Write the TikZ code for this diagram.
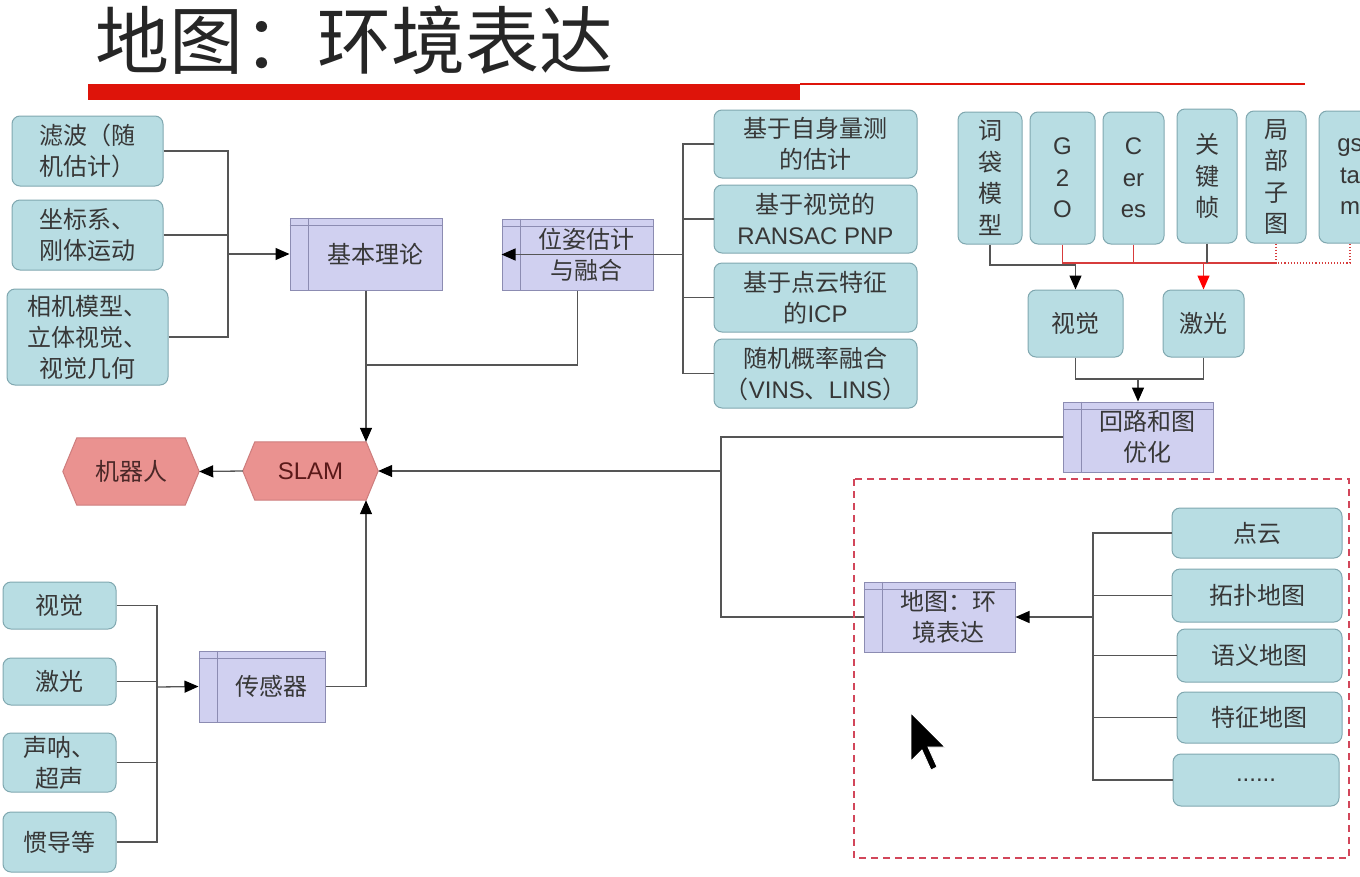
\documentclass[tikz,border=0pt]{standalone}
\usepackage{fontspec}
\setmainfont{Noto Sans CJK SC}
\newfontfamily\lat{Liberation Sans}
\usetikzlibrary{arrows.meta,calc,backgrounds}
\definecolor{tealfill}{RGB}{184,221,227}
\definecolor{tealdraw}{RGB}{128,168,176}
\definecolor{purfill}{RGB}{208,208,240}
\definecolor{purdraw}{RGB}{140,140,178}
\definecolor{hexfill}{RGB}{234,146,144}
\definecolor{hexdraw}{RGB}{205,125,125}
\definecolor{txt}{RGB}{55,55,55}
\definecolor{ln}{RGB}{85,85,85}
\definecolor{redln}{RGB}{215,60,60}
\definecolor{barred}{RGB}{222,20,10}
\definecolor{dashred}{RGB}{210,70,90}
\begin{document}
\begin{tikzpicture}[x=1pt,y=-1pt,
  tbox/.style={draw=tealdraw, fill=tealfill, rounded corners=8pt, line width=1pt, text=txt, align=center, inner sep=0pt, font=\fontsize{24}{31}\selectfont},
  vbox/.style={tbox, font=\fontsize{24}{31.5}\selectfont},
  pbox/.style={draw=purdraw, fill=purfill, line width=1pt, inner sep=0pt},
  ptext/.style={text=txt, align=center, font=\fontsize{24}{31}\selectfont, xshift=9pt},
  hexnode/.style={inner sep=0pt, font=\fontsize{24}{30}\selectfont},
  hex/.style={draw=hexdraw, fill=hexfill, line width=1pt},
  conn/.style={draw=ln, line width=1.3pt},
  arr/.style={conn, -{Triangle[length=14pt,width=12pt,color=black]}},
  redconn/.style={draw=redln, line width=1.3pt},
  reddot/.style={draw=redln, line width=1.1pt, dotted},
  redarr/.style={redconn, -{Triangle[length=14pt,width=12pt,color=red]}}
]
\useasboundingbox (0,0) rectangle (1360,876);
\begin{scope}[on background layer]
\fill[white] (0,0) rectangle (1360,876);
\end{scope}

% title
\node[font=\fontsize{74}{74}\selectfont, text=black!85, inner sep=0pt] (title) at (354,40) {地图：环境表达};
\fill[barred] (88,84) rectangle (800,100);
\draw[barred, line width=1.5pt] (800,84) -- (1305,84);

% left boxes
\node[tbox, minimum width=151, minimum height=70] (l1) at (87.5,151) {滤波（随\\机估计）};
\node[tbox, minimum width=151, minimum height=70] (l2) at (87.5,235) {坐标系、\\刚体运动};
\node[tbox, minimum width=161, minimum height=96] (l3) at (87.5,337) {相机模型、\\立体视觉、\\视觉几何};

% purple boxes
\node[pbox, minimum width=152, minimum height=72, label={[ptext]center:{基本理论}}] (jb) at (366,254) {};
\node[pbox, minimum width=151, minimum height=71, label={[ptext]center:{位姿估计\\与融合}}] (wz) at (577.5,254.5) {};
\node[pbox, minimum width=126, minimum height=71, label={[ptext]center:{传感器}}] (cg) at (262,686.5) {};
\node[pbox, minimum width=150, minimum height=70, label={[ptext]center:{回路和图\\优化}}] (hl) at (1138,437) {};
\node[pbox, minimum width=151, minimum height=70, label={[ptext]center:{地图：环\\境表达}}] (dt) at (939.5,617) {};
\foreach \n in {jb,wz,cg,hl,dt}{
  \draw[purdraw, line width=0.8pt] ([xshift=19pt]\n.north west) -- ([xshift=19pt]\n.south west);
  \draw[purdraw, line width=0.8pt] ([yshift=-8pt]\n.north west) -- ([yshift=-8pt]\n.north east);
}

% pose estimation sources
\node[tbox, minimum width=203, minimum height=68] (r1) at (815.5,144) {基于自身量测\\的估计};
\node[tbox, minimum width=203, minimum height=68] (r2) at (815.5,219) {基于视觉的\\{\lat RANSAC PNP}};
\node[tbox, minimum width=203, minimum height=69] (r3) at (815.5,297.5) {基于点云特征\\的{\lat ICP}};
\node[tbox, minimum width=203, minimum height=69] (r4) at (815.5,373.5) {随机概率融合\\（{\lat VINS}、{\lat LINS}）};

% top right
\node[vbox, minimum width=64, minimum height=132] (bow) at (990,178) {词\\袋\\模\\型};
\node[vbox, minimum width=65, minimum height=132] (g2o) at (1062.5,178) {\lat G\\\lat 2\\\lat O};
\node[vbox, minimum width=61, minimum height=132] (ceres) at (1133.5,178) {\lat C\\\lat er\\\lat es};
\node[vbox, minimum width=60, minimum height=134] (kf) at (1207,176) {关\\键\\帧};
\node[vbox, minimum width=60, minimum height=132] (lsm) at (1276,177) {局\\部\\子\\图};
\node[vbox, minimum width=62, minimum height=132] (gs) at (1350,177) {\lat gs\\\lat ta\\\lat m};
\node[tbox, minimum width=95, minimum height=67] (vis) at (1075.5,323.5) {视觉};
\node[tbox, minimum width=81, minimum height=67] (laser) at (1203.5,323.5) {激光};

% map types
\node[tbox, minimum width=170, minimum height=50] (m1) at (1257,533) {点云};
\node[tbox, minimum width=170, minimum height=53] (m2) at (1257,595.5) {拓扑地图};
\node[tbox, minimum width=165, minimum height=53] (m3) at (1259.5,655.5) {语义地图};
\node[tbox, minimum width=165, minimum height=51] (m4) at (1259.5,717.5) {特征地图};
\node[tbox, minimum width=166, minimum height=52] (m5) at (1256,780) {\lat ......};

% sensors
\node[tbox, minimum width=113, minimum height=47] (b1) at (59.5,605.5) {视觉};
\node[tbox, minimum width=113, minimum height=47] (b2) at (59.5,681.5) {激光};
\node[tbox, minimum width=113, minimum height=59] (b3) at (59.5,762.5) {声呐、\\超声};
\node[tbox, minimum width=113, minimum height=60] (b4) at (59.5,842) {惯导等};

% hexagons
\node[hexnode, minimum width=135, minimum height=58, text={rgb,255:red,90;green,25;blue,25}] (slam) at (310.5,471) {\lat SLAM};
\node[hexnode, minimum width=136, minimum height=67, text={rgb,255:red,75;green,40;blue,40}] (robot) at (131,471.5) {机器人};
\begin{scope}[on background layer]
\draw[hex] (slam.west) -- ([xshift=12pt]slam.north west) -- ([xshift=-12pt]slam.north east) -- (slam.east) -- ([xshift=-12pt]slam.south east) -- ([xshift=12pt]slam.south west) -- cycle;
\draw[hex] (robot.west) -- ([xshift=14pt]robot.north west) -- ([xshift=-14pt]robot.north east) -- (robot.east) -- ([xshift=-14pt]robot.south east) -- ([xshift=14pt]robot.south west) -- cycle;
\end{scope}

% connectors: theory
\coordinate (c1) at (228,254);
\draw[conn] (l1.east) -| (c1);
\draw[conn] (l2.east) -| (c1);
\draw[conn] (l3.east) -| (c1);
\draw[arr] (c1) -- (jb.west);

% connectors: pose
\coordinate (c2) at (683,254.5);
\foreach \r in {r1,r2,r3,r4}{\draw[conn] (\r.west) -| (c2);}
\draw[arr] (c2) -- (wz.west);

% to SLAM from top
\coordinate (c10) at (366,365);
\draw[conn] (wz.south) |- (c10);
\draw[arr] (jb.south) -- (jb.south |- slam.north);

% sensors
\coordinate (c9) at (157,687);
\foreach \b in {b1,b2,b3,b4}{\draw[conn] (\b.east) -| (c9);}
\draw[arr] (c9) -- (cg.west);
\draw[arr] (cg.east) -| (jb.south |- slam.south);

% robot
\draw[arr] (slam.west) -- (robot.east);

% top right connectors
\coordinate (c3) at (1075.5,265);
\coordinate (c4) at (1203.5,263);
\coordinate (c4b) at (1276,263);
\draw[conn] (bow.south) |- (c3);
\draw[redconn] (g2o.south) |- (c4b);
\draw[redconn] (ceres.south) -- (ceres.south |- c4b);
\draw[conn] (kf.south) -- (kf.south |- c4b);
\draw[reddot] (lsm.south) -- (c4b) -- (c4b -| gs.south) -- (gs.south);
\draw[arr] (c3) -- (vis.north);
\draw[redarr] (c4) -- (laser.north);

\coordinate (c5) at (1138,379);
\draw[conn] (vis.south) |- (c5);
\draw[conn] (laser.south) |- (c5);
\draw[arr] (c5) -- (hl.north);

\coordinate (c6) at (721,617);
\coordinate (c7) at (721,471);
\draw[conn] (hl.west) -| (c6) -- (dt.west);
\draw[arr] (c7) -- (slam.east);

% map connectors
\coordinate (c8) at (1093,617);
\foreach \m in {m1,m2,m3,m4,m5}{\draw[conn] (\m.west) -| (c8);}
\draw[arr] (c8) -- (dt.east);

% dashed frame
\draw[dashred, line width=1.3pt, dash pattern=on 7pt off 5pt] (854,479) rectangle (1349,858);

% mouse cursor
\filldraw[fill=black, draw=white, line width=0.8pt] (911,713) -- (911,761) -- (922,750) -- (931,770) -- (937,767) -- (928,747) -- (945,747) -- cycle;
\end{tikzpicture}
\end{document}
